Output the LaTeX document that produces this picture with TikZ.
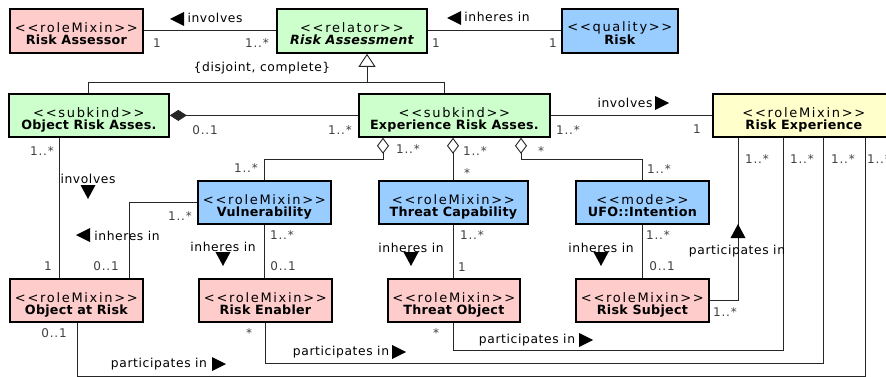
\documentclass[tikz,border=0pt]{standalone}
\usepackage{fontspec}
\setmainfont{DejaVu Sans}
\newfontfamily\stfont{DejaVu Sans}[LetterSpace=13]
\newfontfamily\nmfont{DejaVu Sans}[LetterSpace=2]
\newfontfamily\lbfont{DejaVu Sans}[LetterSpace=5]
\newfontfamily\mtfont{DejaVu Sans}[LetterSpace=7]
\usetikzlibrary{arrows.meta}
\definecolor{cpink}{HTML}{FFCCCC}
\definecolor{cgreen}{HTML}{CCFFCC}
\definecolor{cblue}{HTML}{99CCFF}
\definecolor{cyellow}{HTML}{FFFFCC}
\newcommand\stereo[1]{{\stfont\fontsize{13}{16}\selectfont\textless\textless #1\textgreater\textgreater}}
\newcommand\cname[1]{{\nmfont\fontsize{12.7}{16}\selectfont\bfseries #1}}
\newcommand\umlbox[2]{\stereo{#1}\\\cname{#2}}
\tikzset{
  cls/.style={draw, line width=1.8pt, inner sep=0pt, align=center, text height=28pt, text depth=0pt, anchor=north west},
  mult/.style={font=\mtfont\fontsize{12}{14}\selectfont, text=black!75, inner sep=0pt, text height=9pt, text depth=0pt},
  lbl/.style={font=\lbfont\fontsize{12.3}{14}\selectfont, inner sep=0pt, anchor=base},
  conn/.style={line width=0.9pt, draw=black!85},
  hdiam/.style={{Diamond[open, fill=white, length=16pt, width=12pt]}-},
  triL/.pic={\fill (7,-7) -- (-7,0) -- (7,7) -- cycle;},
  triR/.pic={\fill (-7,-7) -- (7,0) -- (-7,7) -- cycle;},
  triD/.pic={\fill (-7.5,-7) -- (7.5,-7) -- (0,7) -- cycle;},
  triU/.pic={\fill (-7.5,7) -- (7.5,7) -- (0,-7) -- cycle;}
}
\begin{document}
\begin{tikzpicture}[x=1pt,y=-1pt]
\clip (0,0) rectangle (886,377);
% classes
\node[cls, fill=cpink,  minimum width=133pt, minimum height=44pt] (RA)  at (9,8)     {\umlbox{roleMixin}{Risk Assessor}};
\node[cls, fill=cgreen, minimum width=150pt, minimum height=44pt] (RAs) at (276,8)   {\umlbox{relator}{\itshape Risk Assessment}};
\node[cls, fill=cblue,  minimum width=116pt, minimum height=44pt] (Rk)  at (561,8)   {\umlbox{quality}{Risk}};
\node[cls, fill=cgreen, minimum width=160pt, minimum height=43pt] (ORA) at (8,93)    {\umlbox{subkind}{Object Risk Asses.}};
\node[cls, fill=cgreen, minimum width=191pt, minimum height=43pt] (ERA) at (358,93)  {\umlbox{subkind}{Experience Risk Asses.}};
\node[cls, fill=cyellow,minimum width=182pt, minimum height=43pt] (RE)  at (712,93)  {\umlbox{roleMixin}{Risk Experience}};
\node[cls, fill=cblue,  minimum width=133pt, minimum height=43pt] (Vul) at (197,180) {\umlbox{roleMixin}{Vulnerability}};
\node[cls, fill=cblue,  minimum width=149pt, minimum height=43pt] (TC)  at (378,180) {\umlbox{roleMixin}{Threat Capability}};
\node[cls, fill=cblue,  minimum width=133pt, minimum height=43pt] (UFO) at (575,180) {\umlbox{mode}{UFO::Intention}};
\node[cls, fill=cpink,  minimum width=133pt, minimum height=43pt] (OaR) at (9,278)   {\umlbox{roleMixin}{Object at Risk}};
\node[cls, fill=cpink,  minimum width=133pt, minimum height=43pt] (REn) at (198,278) {\umlbox{roleMixin}{Risk Enabler}};
\node[cls, fill=cpink,  minimum width=132pt, minimum height=43pt] (TO)  at (387,278) {\umlbox{roleMixin}{Threat Object}};
\node[cls, fill=cpink,  minimum width=133pt, minimum height=43pt] (RS)  at (575,278) {\umlbox{roleMixin}{Risk Subject}};
% connectors
\draw[conn] (RA) -- (RAs);
\draw[conn] (RAs) -- (Rk);
\coordinate (gj) at (367,82);
\draw[conn, -{Triangle[open, fill=white, length=13pt, width=17pt]}] (gj) -- (gj |- RAs.south);
\draw[conn] (88,0 |- ORA.north) -- (88,0 |- gj) -- (444,0 |- gj) -- (444,0 |- ERA.north);
\draw[conn, {Diamond[length=17pt, width=11pt]}-] (ORA) -- (ERA);
\draw[conn] (ERA) -- (RE);
\draw[conn, hdiam] (383,0 |- ERA.south) -- (383,159) -- (264,159) -- (264,0 |- Vul.north);
\draw[conn, hdiam] (453,0 |- ERA.south) -- (453,0 |- TC.north);
\draw[conn, hdiam] (521,0 |- ERA.south) -- (521,159) -- (642,159) -- (642,0 |- UFO.north);
\draw[conn] (59,0 |- ORA.south) -- (59,0 |- OaR.north);
\draw[conn] (Vul.west) -- (129,0 |- Vul.west) -- (129,0 |- OaR.north);
\draw[conn] (264,0 |- Vul.south) -- (264,0 |- REn.north);
\draw[conn] (453,0 |- TC.south) -- (453,0 |- TO.north);
\draw[conn] (642,0 |- UFO.south) -- (642,0 |- RS.north);
\draw[conn] (RS.east) -- (738,0 |- RS.east) -- (738,0 |- RE.south);
\draw[conn] (453,0 |- TO.south) -- (453,350) -- (783,350) -- (783,0 |- RE.south);
\draw[conn] (265,0 |- REn.south) -- (265,363) -- (823,363) -- (823,0 |- RE.south);
\draw[conn] (77,0 |- OaR.south) -- (77,376) -- (865,376) -- (865,0 |- RE.south);
% association names
\node[lbl] (a1) at (215,23) {involves};
\pic at (177,19) {triL};
\node[lbl] (a2) at (497,22) {inheres in};
\pic at (454,18) {triL};
\node[lbl] (a3) at (262,72) {\{disjoint, complete\}};
\node[lbl] (a4) at (625,108) {involves};
\pic at (662,103) {triR};
\node[lbl] (a5) at (88,183) {involves};
\pic at (88,192) {triD};
\node[lbl] (a6) at (127,240) {inheres in};
\pic at (83,235) {triL};
\node[lbl] (a7) at (223,251) {inheres in};
\pic at (223,259) {triD};
\node[lbl] (a8) at (411,252) {inheres in};
\pic at (411,259) {triD};
\node[lbl] (a9) at (601,252) {inheres in};
\pic at (601,259) {triD};
\node[lbl] (a10) at (737,254) {participates in};
\pic at (738,231) {triU};
\node[lbl] (a11) at (159,367) {participates in};
\pic at (219,364) {triR};
\node[lbl] (a12) at (341,355) {participates in};
\pic at (399,352) {triR};
\node[lbl] (a13) at (527,343) {participates in};
\pic at (586,340) {triR};
% multiplicities
\node[mult] (m1) at (157,43) {1};
\node[mult] (m2) at (257,43) {1..*};
\node[mult] (m3) at (436,43) {1};
\node[mult] (m4) at (553,43) {1};
\node[mult] (m5) at (205,130) {0..1};
\node[mult] (m6) at (340,130) {1..*};
\node[mult] (m7) at (568,130) {1..*};
\node[mult] (m8) at (697,129) {1};
\node[mult] (m9) at (408,149) {1..*};
\node[mult] (m10) at (475,151) {1..*};
\node[mult] (m11) at (467,173) {*};
\node[mult] (m12) at (541,151) {*};
\node[mult] (m13) at (659,169) {1..*};
\node[mult] (m14) at (246,168) {1..*};
\node[mult] (m15) at (180,216) {1..*};
\node[mult] (m16) at (42,151) {1..*};
\node[mult] (m17) at (282,235) {1..*};
\node[mult] (m18) at (472,235) {1..*};
\node[mult] (m19) at (658,235) {1..*};
\node[mult] (m20) at (48,266) {1};
\node[mult] (m21) at (106,266) {0..1};
\node[mult] (m22) at (283,266) {0..1};
\node[mult] (m23) at (462,267) {1};
\node[mult] (m24) at (662,266) {0..1};
\node[mult] (m25) at (725,312) {1..*};
\node[mult] (m26) at (757,159) {1..*};
\node[mult] (m27) at (802,159) {1..*};
\node[mult] (m28) at (843,159) {1..*};
\node[mult] (m29) at (879,159) {1..*};
\node[mult] (m30) at (249,333) {*};
\node[mult] (m31) at (436,333) {*};
\node[mult] (m32) at (54,333) {0..1};
\end{tikzpicture}
\end{document}
